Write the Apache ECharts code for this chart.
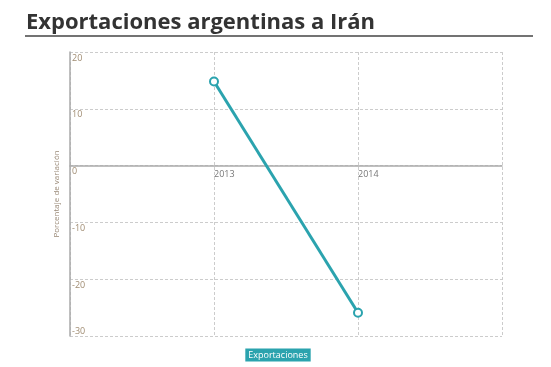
<!DOCTYPE html>
<html><head><meta charset="utf-8">
<script src="https://cdn.jsdelivr.net/npm/echarts@6/dist/echarts.min.js"></script>
<style>html,body{margin:0;padding:0;background:#fff}#c{width:551px;height:367px}</style>
</head><body><div id="c"></div>
<script>
const titleText = 'Exportaciones argentinas a Irán';
const seriesName = 'Exportaciones';
const years = [2013, 2014];
const values = [14.8, -25.9];
const yTicks = [-30, -20, -10, 0, 10, 20];
const yAxisName = 'Porcentaje de variación';

const chart = echarts.init(document.getElementById('c'), null, {renderer: 'canvas'});
const teal = '#2ba3ae';
const gridTop = 52, gridBottom = 31, H = 367;
const plotH = H - gridTop - gridBottom;
const yMin = yTicks[0], yMax = yTicks[yTicks.length - 1];
const zeroOffset = -plotH * (0 - yMin) / (yMax - yMin);
chart.setOption({
  animation: false,
  backgroundColor: '#fff',
  title: {
    text: titleText, left: 21, top: 7,
    textStyle: {fontFamily: 'Open Sans', fontWeight: 'bold', fontSize: 22, color: '#333'}
  },
  graphic: [{
    type: 'line', shape: {x1: 25, y1: 36, x2: 533, y2: 36},
    style: {stroke: '#444', lineWidth: 1.5}
  }],
  legend: {
    top: 343, left: 'center', icon: 'none', itemWidth: 0, itemGap: 0,
    data: [seriesName],
    textStyle: {color: '#fff', backgroundColor: teal, padding: [2, 3, 2, 3], fontSize: 9, fontFamily: 'Open Sans'}
  },
  grid: {left: 70, right: 49, top: gridTop, bottom: gridBottom},
  xAxis: [{
    type: 'value', min: 2012, max: 2015, interval: 1,
    axisLine: {show: false},
    axisTick: {show: false},
    axisLabel: {show: false},
    splitLine: {show: true, lineStyle: {color: '#ccc', type: [3, 2], width: 1}}
  }, {
    type: 'value', min: 2012, max: 2015, interval: 1, position: 'bottom',
    offset: zeroOffset,
    axisLine: {show: true, onZero: false, lineStyle: {color: '#aaa', width: 1.5}},
    axisTick: {show: false},
    axisLabel: {
      color: '#777', fontSize: 9, fontFamily: 'Open Sans', align: 'left', margin: 4,
      formatter: v => (years.indexOf(v) >= 0 ? String(v) : '')
    },
    splitLine: {show: false}
  }],
  yAxis: {
    type: 'value', min: yMin, max: yMax, interval: 10,
    name: yAxisName, nameLocation: 'middle', nameGap: 6,
    nameTextStyle: {color: '#9a8a78', fontSize: 8, fontFamily: 'Open Sans'},
    axisLine: {show: true, lineStyle: {color: '#aaa', width: 1.5}},
    axisTick: {show: false},
    axisLabel: {
      inside: true, align: 'left', verticalAlign: 'middle', margin: 2,
      color: '#a08c72', fontSize: 9, fontFamily: 'Open Sans',
      formatter: v => (v === yMin ? '{b|' + v + '}' : '{a|' + v + '}'),
      rich: {
        a: {padding: [12, 0, 0, 0], color: '#a08c72', fontSize: 9, fontFamily: 'Open Sans'},
        b: {padding: [0, 0, 10, 0], color: '#a08c72', fontSize: 9, fontFamily: 'Open Sans'}
      }
    },
    splitLine: {show: true, lineStyle: {color: '#ccc', type: [3, 2], width: 1}}
  },
  series: [{
    name: seriesName, type: 'line', xAxisIndex: 0,
    data: years.map((y, i) => [y, values[i]]),
    color: teal,
    lineStyle: {color: teal, width: 3},
    symbol: 'circle', symbolSize: 8,
    itemStyle: {color: '#fff', borderColor: teal, borderWidth: 2}
  }]
});
</script></body></html>
